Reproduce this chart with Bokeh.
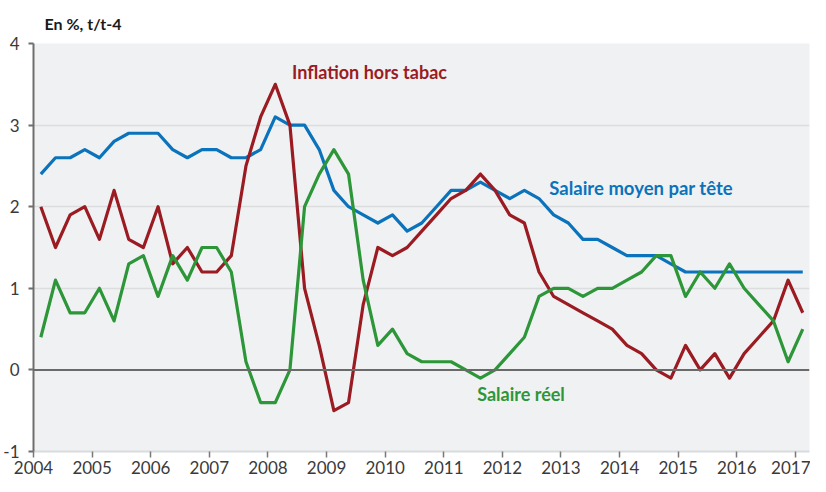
from bokeh.plotting import figure
from bokeh.models import Range1d, FixedTicker, Span, Label, ColumnDataSource
from bokeh.embed import file_html
from bokeh.resources import INLINE

# Quarterly data, 2004Q1 .. 2017Q1
start_year = 2004
n_quarters = 53

salaire_moyen = [2.4, 2.6, 2.6, 2.7, 2.6, 2.8, 2.9, 2.9, 2.9, 2.7, 2.6, 2.7, 2.7,
                 2.6, 2.6, 2.7, 3.1, 3.0, 3.0, 2.7, 2.2, 2.0, 1.9, 1.8, 1.9, 1.7,
                 1.8, 2.0, 2.2, 2.2, 2.3, 2.2, 2.1, 2.2, 2.1, 1.9, 1.8, 1.6, 1.6,
                 1.5, 1.4, 1.4, 1.4, 1.3, 1.2, 1.2, 1.2, 1.2, 1.2, 1.2, 1.2, 1.2, 1.2]

inflation = [2.0, 1.5, 1.9, 2.0, 1.6, 2.2, 1.6, 1.5, 2.0, 1.3, 1.5, 1.2, 1.2,
             1.4, 2.5, 3.1, 3.5, 3.0, 1.0, 0.3, -0.5, -0.4, 0.8, 1.5, 1.4, 1.5,
             1.7, 1.9, 2.1, 2.2, 2.4, 2.2, 1.9, 1.8, 1.2, 0.9, 0.8, 0.7, 0.6,
             0.5, 0.3, 0.2, 0.0, -0.1, 0.3, 0.0, 0.2, -0.1, 0.2, 0.4, 0.6, 1.1, 0.7]

salaire_reel = [0.4, 1.1, 0.7, 0.7, 1.0, 0.6, 1.3, 1.4, 0.9, 1.4, 1.1, 1.5, 1.5,
                1.2, 0.1, -0.4, -0.4, 0.0, 2.0, 2.4, 2.7, 2.4, 1.1, 0.3, 0.5, 0.2,
                0.1, 0.1, 0.1, 0.0, -0.1, 0.0, 0.2, 0.4, 0.9, 1.0, 1.0, 0.9, 1.0,
                1.0, 1.1, 1.2, 1.4, 1.4, 0.9, 1.2, 1.0, 1.3, 1.0, 0.8, 0.6, 0.1, 0.5]

year_ticks = list(range(2004, 2018))
y_ticks = [-1, 0, 1, 2, 3, 4]
y_tick_labels = ["-1", "0", "1", "2", "3", "4"]
grid_ticks = [1, 2, 3]

title_text = "En %, t/t-4"
label_inflation = "Inflation hors tabac"
label_salaire_moyen = "Salaire moyen par tête"
label_salaire_reel = "Salaire réel"

# x = middle of each quarter
x = [start_year + (i + 0.5) / 4 for i in range(n_quarters)]

FONT = "Lato"
BLUE = "#0B73BB"
RED = "#9B1B22"
GREEN = "#2C9638"
TEXT = "#3A3A3A"

p = figure(width=810, height=476, output_backend="svg", toolbar_location=None,
           x_range=Range1d(2004, 2017.24), y_range=Range1d(-1, 4),
           min_border_left=27, min_border_right=1, min_border_top=40, min_border_bottom=0)

p.title.text = title_text
p.title.align = "left"
p.title.offset = 11
p.title.standoff = 22
p.title.text_font = FONT
p.title.text_font_size = "16px"
p.title.text_font_style = "bold"
p.title.text_color = "#1A1A1A"

p.background_fill_color = "#F0F1F3"
p.border_fill_color = "white"
p.outline_line_color = None

# axes
p.yaxis.ticker = FixedTicker(ticks=y_ticks)
p.yaxis.major_label_overrides = {t: s for t, s in zip(y_ticks, y_tick_labels)}
p.yaxis.axis_line_color = "#6E6E6E"
p.yaxis.axis_line_width = 2
p.yaxis.major_tick_out = 5
p.yaxis.major_tick_in = 0
p.yaxis.major_tick_line_color = "#6E6E6E"
p.yaxis.major_tick_line_width = 2
p.yaxis.minor_tick_line_color = None
p.yaxis.major_label_text_font = FONT
p.yaxis.major_label_text_font_size = "17px"
p.yaxis.major_label_text_color = TEXT
p.yaxis.major_label_standoff = 9

p.xaxis.ticker = FixedTicker(ticks=year_ticks)
p.xaxis.axis_line_color = "#DADBDD"
p.xaxis.axis_line_width = 2
p.xaxis.major_tick_out = 6
p.xaxis.major_tick_in = 0
p.xaxis.major_tick_line_color = "#7A7A7A"
p.xaxis.major_tick_line_width = 1.5
p.xaxis.minor_tick_line_color = None
p.xaxis.major_label_text_font = FONT
p.xaxis.major_label_text_font_size = "17px"
p.xaxis.major_label_text_color = TEXT
p.xaxis.major_label_standoff = 3

p.xgrid.grid_line_color = None
p.ygrid.ticker = FixedTicker(ticks=grid_ticks)
p.ygrid.grid_line_color = "#DCDDDF"
p.ygrid.grid_line_width = 1.5

p.add_layout(Span(location=0, dimension="width", line_color="#6A6A6A", line_width=2))

src = ColumnDataSource(dict(x=x, sm=salaire_moyen, inf=inflation, sr=salaire_reel))
p.line("x", "sm", source=src, line_color=BLUE, line_width=3.2, line_join="round")
p.line("x", "inf", source=src, line_color=RED, line_width=3.2, line_join="round")
p.line("x", "sr", source=src, line_color=GREEN, line_width=3.2, line_join="round")

common = dict(text_font=FONT, text_font_style="bold", text_baseline="middle", text_align="left")
p.add_layout(Label(x=2008.41, y=3.65, text=label_inflation, text_color=RED,
                   text_font_size="18px", **common))
p.add_layout(Label(x=2012.8, y=2.23, text=label_salaire_moyen, text_color=BLUE,
                   text_font_size="18.5px", **common))
p.add_layout(Label(x=2011.57, y=-0.30, text=label_salaire_reel, text_color=GREEN,
                   text_font_size="18px", **common))

open("out.html", "w").write(file_html(p, INLINE))
